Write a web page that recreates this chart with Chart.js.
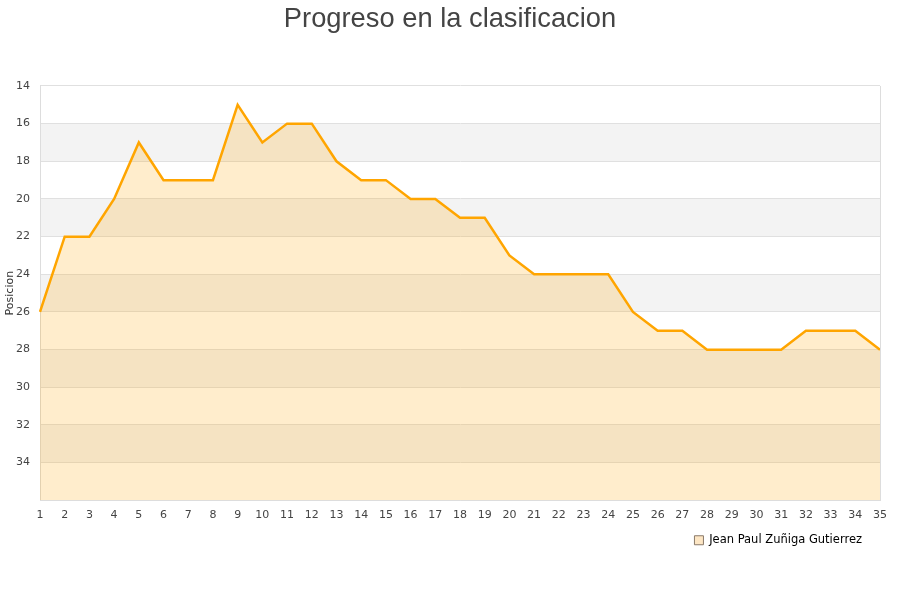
<!DOCTYPE html>
<html lang="es">
<head>
  <meta charset="UTF-8">
  <title>Progreso en la clasificacion</title>
  <style>
    html, body { margin: 0; padding: 0; background: #fff; }
    #wrap { width: 900px; height: 600px; }
  </style>
</head>
<body>
  <div id="wrap"><canvas id="chart" width="900" height="600"></canvas></div>

  <script src="https://cdn.jsdelivr.net/npm/chart.js"></script>
  <script>
    // jornadas and position per jornada
    const jornadas = ["1","2","3","4","5","6","7","8","9","10","11","12","13","14","15","16","17","18",
                      "19","20","21","22","23","24","25","26","27","28","29","30","31","32","33","34","35"];
    const posiciones = [26, 22, 22, 20, 17, 19, 19, 19, 15, 17, 16, 16, 18, 19, 19, 20, 20, 21,
                        21, 23, 24, 24, 24, 24, 26, 27, 27, 28, 28, 28, 28, 27, 27, 27, 28];
    const jugador = "Jean Paul Zuñiga Gutierrez";
    const yMin = 14, yMax = 36, yStep = 2;

    // grey stripes every other band + frame around plot area
    const bandsPlugin = {
      id: 'bands',
      afterLayout(chart) {
        // title centred on the page, legend a bit left of the plot's right edge
        if (chart.titleBlock) {
          chart.titleBlock.left += 10;
          chart.titleBlock.right += 10;
        }
        if (chart.legend) {
          chart.legend.left -= 13;
          chart.legend.right -= 13;
        }
      },
      beforeDraw(chart) {
        const { ctx, chartArea, scales } = chart;
        const y = scales.y;
        ctx.save();
        ctx.fillStyle = '#f3f3f3';
        for (let v = yMin + yStep; v < yMax; v += yStep * 2) {
          const top = y.getPixelForValue(v);
          const bot = y.getPixelForValue(v + yStep);
          ctx.fillRect(chartArea.left, top, chartArea.right - chartArea.left, bot - top);
        }
        ctx.restore();
      },
      afterDatasetsDraw(chart) {
        const { ctx, chartArea } = chart;
        ctx.save();
        ctx.strokeStyle = '#dddddd';
        ctx.lineWidth = 1;
        ctx.beginPath();
        ctx.moveTo(Math.round(chartArea.right) + 0.5, chartArea.top);
        ctx.lineTo(Math.round(chartArea.right) + 0.5, chartArea.bottom);
        ctx.stroke();
        ctx.restore();
      }
    };

    new Chart(document.getElementById('chart'), {
      type: 'line',
      data: {
        labels: jornadas,
        datasets: [{
          label: jugador,
          data: posiciones,
          borderColor: '#ffa500',
          borderWidth: 2.5,
          backgroundColor: 'rgba(255,165,0,0.2)',
          fill: { value: yMax },
          pointRadius: 0,
          tension: 0
        }]
      },
      options: {
        responsive: false,
        animation: false,
        layout: { padding: { left: 0, right: 20, top: 0, bottom: 44 } },
        plugins: {
          title: {
            display: true,
            text: 'Progreso en la clasificacion',
            color: '#444',
            font: { family: 'Liberation Sans', size: 27.3, weight: 'normal' },
            padding: { top: 3, bottom: 50.2 }
          },
          legend: {
            position: 'bottom',
            align: 'end',
            labels: {
              boxWidth: 9,
              boxHeight: 9,
              padding: 5,
              color: '#222',
              font: { family: 'DejaVu Sans', size: 11.5 },
              generateLabels(chart) {
                return [{
                  text: jugador,
                  fillStyle: '#fde6c4',
                  strokeStyle: '#8a7a6a',
                  lineWidth: 1,
                  datasetIndex: 0
                }];
              }
            }
          },
          tooltip: { enabled: false }
        },
        scales: {
          x: {
            offset: false,
            grid: { display: false, drawTicks: false },
            border: { color: '#dddddd' },
            ticks: {
              color: '#444',
              font: { family: 'DejaVu Sans', size: 11 },
              padding: 8,
              maxRotation: 0,
              autoSkip: false
            }
          },
          y: {
            reverse: true,
            min: yMin,
            max: yMax,
            afterFit(scale) { scale.width = 40; },
            grid: { color: '#e0e0e0', drawTicks: false },
            border: { color: '#dddddd' },
            title: {
              display: true,
              text: 'Posicion',
              color: '#333',
              font: { family: 'DejaVu Sans', size: 11 },
              padding: { top: 4, bottom: 0 }
            },
            ticks: {
              stepSize: yStep,
              color: '#444',
              font: { family: 'DejaVu Sans', size: 11 },
              padding: 10,
              callback: v => (v === yMax ? '' : v)
            }
          }
        }
      },
      plugins: [bandsPlugin]
    });
  </script>
</body>
</html>
